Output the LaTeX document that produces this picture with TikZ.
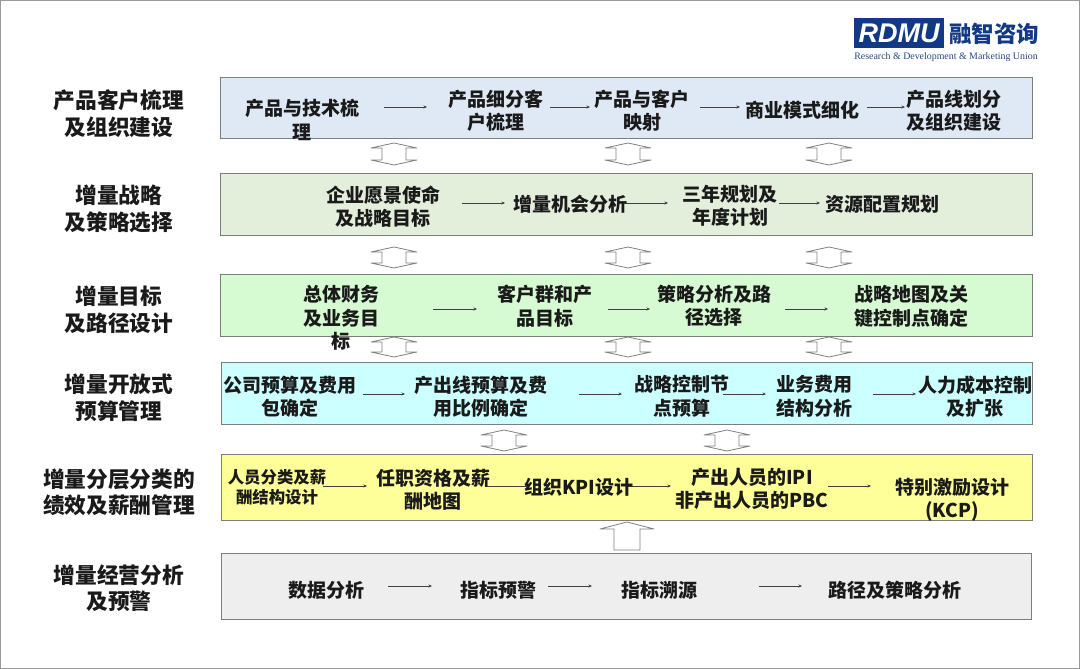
\documentclass[tikz,border=0pt]{standalone}
\usepackage{fontspec}
\setmainfont{Noto Sans CJK SC}
\newfontfamily\serifpart{Liberation Serif}
\newfontfamily\sanspart{Liberation Sans}
\definecolor{rowblue}{HTML}{DFE9F6}
\definecolor{rowsage}{HTML}{E3EEDB}
\definecolor{rowgreen}{HTML}{D6FBD2}
\definecolor{rowcyan}{HTML}{CCFFFF}
\definecolor{rowyellow}{HTML}{FFFF99}
\definecolor{rowgray}{HTML}{EEEEEE}
\definecolor{logoblue}{HTML}{123A84}
\definecolor{edgegray}{HTML}{7A7F7A}
\definecolor{inktext}{HTML}{1A1A1A}
\usetikzlibrary{arrows.meta}
\tikzset{
  rowbox/.style={draw=edgegray,line width=1pt,minimum width=812pt,anchor=north west,inner sep=0pt},
  steplabel/.style={font=\fontsize{19}{23.5}\selectfont\bfseries,text=inktext,align=center,inner sep=0pt},
  smalllabel/.style={font=\fontsize{16.4}{20}\selectfont\bfseries,text=inktext,align=center,inner sep=0pt},
  sidelabel/.style={font=\fontsize{21.7}{26.5}\selectfont\bfseries,text=inktext,align=center,inner sep=0pt},
  flow/.style={draw=black!75,line width=0.6pt,-{Stealth[length=3.5pt,width=3pt]}},
  hollow/.style={draw=black!50,line width=0.8pt,fill=white,line join=round},
}
\newcommand{\flowarrow}[4]{%
  \coordinate (#1a) at (#2,#4);
  \coordinate (#1b) at (#3,#4);
  \draw[flow] (#1a) -- (#1b);}
\newcommand{\doublearrow}[3]{%
  \draw[hollow] (#1-23,#2+5) -- (#1,#2) -- (#1+23,#2+5) -- (#1+12,#2+5) -- (#1+12,#3-5)
    -- (#1+23,#3-5) -- (#1,#3) -- (#1-23,#3-5) -- (#1-12,#3-5) -- (#1-12,#2+5) -- cycle;}
\begin{document}
\begin{tikzpicture}[x=1pt,y=-1pt]
\useasboundingbox (0,0) rectangle (1080,669);
\draw[draw=black!40,line width=1.6pt,fill=white] (0.5,0.5) rectangle (1079.5,668.5);

% logo
\node[fill=logoblue,minimum width=90pt,minimum height=30pt,inner sep=0pt,anchor=north west,
  font=\sanspart\fontsize{27}{27}\selectfont\bfseries\itshape,text=white] (logo) at (854,18) {RDMU};
\node[font=\fontsize{22.5}{24}\selectfont\bfseries,text=logoblue,inner sep=0pt] (logocn) at (994,34) {融智咨询};
\node[font=\serifpart\fontsize{9.9}{11}\selectfont,text=logoblue!80!gray,inner sep=0pt] (logoen) at (946,57.5) {Research \& Development \& Marketing Union};

% rows
\node[rowbox,fill=rowblue,minimum height=61pt] (r1) at (220,77) {};
\node[rowbox,fill=rowsage,minimum height=62pt] (r2) at (220,173) {};
\node[rowbox,fill=rowgreen,minimum height=62pt] (r3) at (220,274) {};
\node[rowbox,fill=rowcyan,minimum height=62pt,minimum width=811pt] (r4) at (221,362) {};
\node[rowbox,fill=rowyellow,minimum height=66pt,minimum width=811pt] (r5) at (221,454) {};
\node[rowbox,fill=rowgray,minimum height=66pt,minimum width=810pt] (r6) at (221,553) {};

% side labels
\node[sidelabel] (s1) at (119,113.5) {产品客户梳理\\及组织建设};
\node[sidelabel] (s2) at (119,209) {增量战略\\及策略选择};
\node[sidelabel] (s3) at (119,310) {增量目标\\及路径设计};
\node[sidelabel] (s4) at (119,398) {增量开放式\\预算管理};
\node[sidelabel] (s5) at (119,492.5) {增量分层分类的\\绩效及薪酬管理};
\node[sidelabel] (s6) at (119,588) {增量经营分析\\及预警};

% row 1
\flowarrow{fa1}{384}{427}{107}
\flowarrow{fa2}{550}{590}{107}
\flowarrow{fa3}{700}{740}{107}
\flowarrow{fa4}{867}{905}{107}
\node[steplabel] (a1) at (302,120) {产品与技术梳\\理};
\node[steplabel] (a2) at (496,110.5) {产品细分客\\户梳理};
\node[steplabel] (a3) at (642,110.5) {产品与客户\\映射};
\node[steplabel] (a4) at (802,110) {商业模式细化};
\node[steplabel] (a5) at (954,110.5) {产品线划分\\及组织建设};

% row 2
\flowarrow{fb1}{462}{505}{203}
\flowarrow{fb2}{625}{668}{203}
\flowarrow{fb3}{779}{820}{203}
\node[steplabel] (b1) at (383,206.5) {企业愿景使命\\及战略目标};
\node[steplabel] (b2) at (570,204) {增量机会分析};
\node[steplabel] (b3) at (730,206) {三年规划及\\年度计划};
\node[steplabel] (b4) at (882,204) {资源配置规划};

% row 3
\flowarrow{fc1}{433}{477}{309}
\flowarrow{fc2}{608}{650}{309}
\flowarrow{fc3}{785}{828}{309}

% row 4
\flowarrow{fd1}{363}{405}{394}
\flowarrow{fd2}{579}{622}{394}
\flowarrow{fd3}{723}{766}{394}
\flowarrow{fd4}{873}{916}{394}
\node[steplabel] (d1) at (290,396.5) {公司预算及费用\\包确定};
\node[steplabel] (d2) at (481,396.5) {产出线预算及费\\用比例确定};
\node[steplabel] (d3) at (682,396.5) {战略控制节\\点预算};
\node[steplabel] (d4) at (814,396.5) {业务费用\\结构分析};
\node[steplabel] (d5) at (975,396.5) {人力成本控制\\及扩张};

% row 5
\flowarrow{fe1}{323}{367}{486}
\flowarrow{fe2}{485}{530}{486}
\flowarrow{fe3}{628}{671}{486}
\flowarrow{fe4}{828}{871}{486}
\node[smalllabel] (e1) at (277,487) {人员分类及薪\\酬结构设计};
\node[steplabel] (e2) at (433,490) {任职资格及薪\\酬地图};
\node[steplabel] (e3) at (579,487) {组织KPI设计};
\node[steplabel] (e4) at (752,489) {产出人员的IPI\\非产出人员的PBC};
\node[steplabel] (e5) at (952,500) {特别激励设计\\(KCP)};

% row 6
\flowarrow{fg1}{388}{432}{586}
\flowarrow{fg2}{548}{592}{586}
\flowarrow{fg3}{759}{802}{586}
\node[steplabel] (g1) at (326,590) {数据分析};
\node[steplabel] (g2) at (498,590) {指标预警};
\node[steplabel] (g3) at (659,590) {指标溯源};
\node[steplabel] (g4) at (895,590) {路径及策略分析};

% hollow arrows
\doublearrow{394}{143}{165}
\doublearrow{628}{143}{165}
\doublearrow{829}{143}{165}
\doublearrow{394}{247}{268}
\doublearrow{628}{247}{268}
\doublearrow{829}{247}{268}
\doublearrow{394}{337}{357}
\doublearrow{628}{337}{357}
\doublearrow{829}{337}{357}
\doublearrow{504}{430}{451}
\doublearrow{727}{430}{451}
\draw[hollow] (600,529) -- (627,522) -- (654,529) -- (640,529) -- (640,550) -- (614,550) -- (614,529) -- cycle;

% row 3 labels, over the hollow arrows (the last line of c1 runs past the box)
\node[steplabel] (c1) at (341,318) {总体财务\\及业务目\\标};
\node[steplabel] (c2) at (545,306) {客户群和产\\品目标};
\node[steplabel] (c3) at (714,306) {策略分析及路\\径选择};
\node[steplabel] (c4) at (911,306.5) {战略地图及关\\键控制点确定};
\end{tikzpicture}
\end{document}
